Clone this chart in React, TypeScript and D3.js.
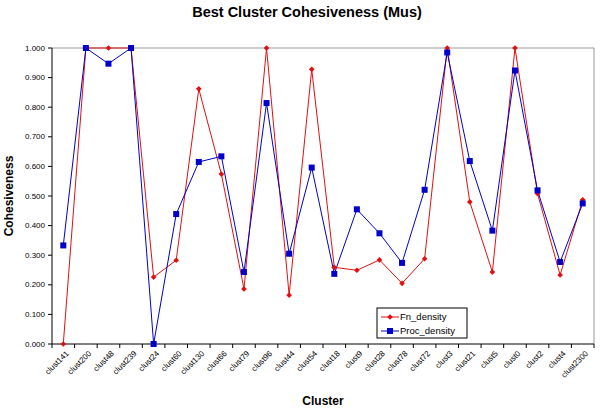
import React from 'react';
import { scaleBand, scaleLinear, line, format, range } from 'd3';

const clusters = [
  'clust141', 'clust200', 'clust48', 'clust239', 'clust24', 'clust60', 'clust130', 'clust66',
  'clust79', 'clust96', 'clust44', 'clust54', 'clust18', 'clust9', 'clust28', 'clust78',
  'clust72', 'clust3', 'clust21', 'clust5', 'clust0', 'clust2', 'clust4', 'clust2300',
];

const fnDensity = [
  0.0, 1.0, 1.0, 1.0, 0.226, 0.283, 0.862, 0.574,
  0.186, 1.0, 0.165, 0.928, 0.259, 0.249, 0.284, 0.205,
  0.288, 1.0, 0.48, 0.243, 1.0, 0.508, 0.233, 0.487,
];

const procDensity = [
  0.333, 1.0, 0.947, 1.0, 0.0, 0.439, 0.615, 0.634,
  0.243, 0.814, 0.305, 0.596, 0.237, 0.455, 0.374, 0.274,
  0.521, 0.985, 0.618, 0.383, 0.924, 0.519, 0.277, 0.475,
];

const yTicks = range(0, 1.0001, 0.1);

const width = 600;
const height = 411;
const margin = { top: 48, right: 6, bottom: 67, left: 52 };
const innerW = width - margin.left - margin.right;
const innerH = height - margin.top - margin.bottom;

const RED = '#e01010';
const BLUE = '#0000cc';
const font = 'Arial, "Liberation Sans", sans-serif';

export default function App() {
  const x = scaleBand<string>().domain(clusters).range([0, innerW]);
  const y = scaleLinear().domain([0, 1]).range([innerH, 0]);
  const cx = (c: string) => (x(c) as number) + x.bandwidth() / 2;
  const fmt = format('.3f');

  const mk = (vals: number[]) =>
    line<number>()
      .x((_, i) => cx(clusters[i]))
      .y(d => y(d))(vals) as string;

  return (
    <svg
      width={width}
      height={height}
      style={{ position: 'absolute', left: 0, top: 0, background: '#fff' }}
      fontFamily={font}
    >
      <text x={307} y={17} textAnchor="middle" fontSize={14.5} fontWeight="bold">
        Best Cluster Cohesiveness (Mus)
      </text>

      <g transform={`translate(${margin.left},${margin.top})`}>
        {/* plot border (top/right) */}
        <line x1={0} x2={innerW} y1={0} y2={0} stroke="#999" />
        <line x1={innerW} x2={innerW} y1={0} y2={innerH} stroke="#999" />

        {/* y axis */}
        <line x1={0} x2={0} y1={0} y2={innerH} stroke="#000" />
        {yTicks.map(t => (
          <g key={t} transform={`translate(0,${y(t)})`}>
            <line x1={-4} x2={0} stroke="#000" />
            <text x={-7} dy="0.33em" textAnchor="end" fontSize={8}>
              {fmt(t)}
            </text>
          </g>
        ))}

        {/* x axis */}
        <line x1={0} x2={innerW} y1={innerH} y2={innerH} stroke="#000" />
        {range(clusters.length + 1).map(i => (
          <line
            key={i}
            x1={i * x.step()}
            x2={i * x.step()}
            y1={innerH}
            y2={innerH + 4}
            stroke="#000"
          />
        ))}
        {clusters.map(c => (
          <text
            key={c}
            transform={`translate(${cx(c) + 4},${innerH + 8}) rotate(-45)`}
            textAnchor="end"
            dy="0.35em"
            fontSize={8}
          >
            {c}
          </text>
        ))}

        {/* series */}
        <path d={mk(fnDensity)} fill="none" stroke={RED} strokeWidth={1} />
        <path d={mk(procDensity)} fill="none" stroke={BLUE} strokeWidth={1} />
        {fnDensity.map((v, i) => (
          <rect
            key={'f' + i}
            x={-2}
            y={-2}
            width={4}
            height={4}
            fill={RED}
            transform={`translate(${cx(clusters[i])},${y(v)}) rotate(45)`}
          />
        ))}
        {procDensity.map((v, i) => (
          <rect
            key={'p' + i}
            x={cx(clusters[i]) - 3}
            y={y(v) - 3}
            width={6}
            height={6}
            fill={BLUE}
          />
        ))}

        {/* legend */}
        <g transform={`translate(${377 - margin.left},${308 - margin.top})`}>
          <rect width={90} height={30} fill="#fff" stroke="#000" />
          <line x1={4} x2={22} y1={9} y2={9} stroke={RED} />
          <rect x={-2} y={-2} width={4} height={4} fill={RED} transform="translate(13,9) rotate(45)" />
          <text x={23} y={9} dy="0.35em" fontSize={9.5}>Fn_density</text>
          <line x1={4} x2={22} y1={23} y2={23} stroke={BLUE} />
          <rect x={10} y={20} width={6} height={6} fill={BLUE} />
          <text x={23} y={23} dy="0.35em" fontSize={9.5}>Proc_density</text>
        </g>

        {/* axis titles */}
        <text
          transform={`translate(-39,${innerH / 2}) rotate(-90)`}
          textAnchor="middle"
          fontSize={12}
          fontWeight="bold"
        >
          Cohesiveness
        </text>
      </g>
      <text
        x={margin.left + innerW / 2}
        y={405}
        textAnchor="middle"
        fontSize={12}
        fontWeight="bold"
      >
        Cluster
      </text>
    </svg>
  );
}
